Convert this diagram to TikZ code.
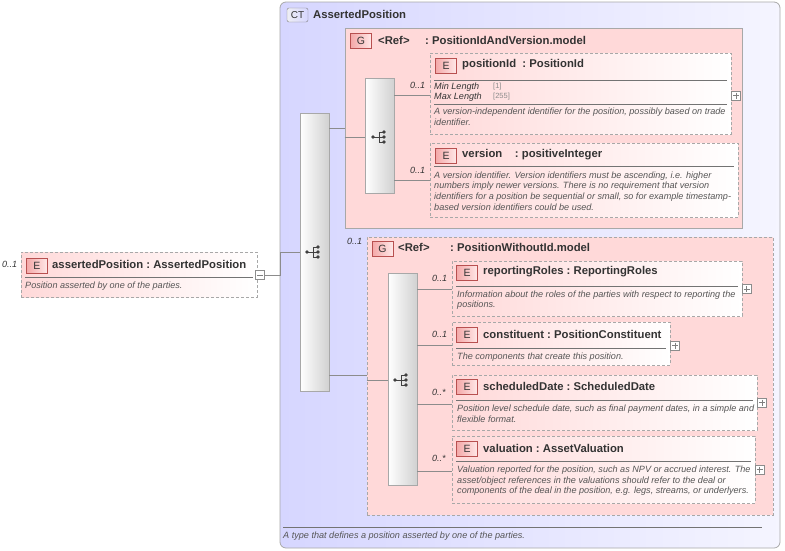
\documentclass[tikz,border=0pt]{standalone}
\usepackage{fontspec}
\setmainfont{Liberation Sans}
\begin{document}
\definecolor{pk}{HTML}{FFD9D9}
\definecolor{lav}{HTML}{D6D6FF}
\definecolor{badge}{HTML}{F4A8A8}
\definecolor{badgeb}{HTML}{B85050}
\definecolor{txt}{HTML}{333333}
\definecolor{dsc}{HTML}{555555}
\definecolor{bord}{HTML}{A8A8A8}
\begin{tikzpicture}[x=1pt,y=-1pt,
  elem/.style={draw=bord,dashed,dash pattern=on 3pt off 2pt,left color=pk,right color=white,line width=0.8pt},
  grp/.style={draw=bord,fill=pk,line width=0.8pt},
  seq/.style={draw=bord,left color=white,right color=black!18,line width=0.6pt},
  bdg/.style={draw=badgeb,left color=badge,right color=pk!60,line width=0.5pt,font=\fontsize{10.5}{12}\selectfont,text=txt,inner sep=0pt},
  ttl/.style={anchor=west,font=\bfseries\fontsize{11.3}{13}\selectfont,text=txt,inner sep=0pt},
  dsc/.style={anchor=west,font=\itshape\fontsize{9.1}{11}\selectfont,text=dsc,inner sep=0pt},
  card/.style={anchor=west,font=\itshape\fontsize{9}{11}\selectfont,text=txt,inner sep=0pt},
  sep/.style={draw=black!55,line width=0.5pt},
  conn/.style={draw=black!45,line width=0.6pt},
  pm/.style={draw=black!45,fill=white,line width=0.5pt,minimum size=9pt,inner sep=0pt}]
\newcommand\bx[6]{\node[#6,minimum width={#4pt-#2pt},minimum height={#5pt-#3pt},inner sep=0pt] (#1) at ({(#2+#4)/2},{(#3+#5)/2}) {};}
\newcommand\bdgat[4]{\node[bdg,minimum width=21pt,minimum height=15pt] (#1) at (#2,#3) {#4};}
\newcommand\seqicon[2]{%
  \begin{scope}[shift={(#1,#2)}]
   \draw[black!75,line width=0.9pt] (-6,0) -- (0,0) (0,-5) -- (0,5) (0,-5) -- (5,-5) (0,5) -- (5,5) (0,0)--(5,0);
   \fill[black!75] (-6,0) circle[radius=1.8pt] (5,-5) circle[radius=1.8pt] (5,0) circle[radius=1.8pt] (5,5) circle[radius=1.8pt];
  \end{scope}}
\useasboundingbox (0,0) rectangle (785,550);
% CT
\node[draw=bord,rounded corners=6pt,left color=lav,right color=lav!25,minimum width=500pt,minimum height=546pt,line width=0.8pt] (ct) at (530,275) {};
\node[draw=black!50,left color=lav!80!black!20,right color=lav,minimum width=21pt,minimum height=14pt,inner sep=0pt,font=\fontsize{10}{11}\selectfont,text=txt,rounded corners=2pt] (ctb) at (297.5,15) {CT};
\node[ttl] (ctt) at (313,14) {AssertedPosition};
\draw[sep] (283,527) -- (762,527);
\node[dsc] (ctd) at (283,536) {A type that defines a position asserted by one of the parties.};
% asserted element
\node[card] (c0) at (2,264) {0..1};
\bx{ap}{21}{252}{257}{297}{elem}
\bdgat{apb}{37}{265.5}{E}
\node[ttl] (apt) at (52,264) {assertedPosition\ :\ AssertedPosition};
\draw[sep] (25,277) -- (253,277);
\node[dsc] (apd) at (25,286) {Position asserted by one of the parties.};
\node[pm] (apm) at (260,275) {};
\draw[black!50] (257,275)--(263,275);
% main sequence
\bx{s1}{300}{113}{329}{391}{seq}
\seqicon{313}{252}
\draw[conn] (apm.east) -- (280,275) |- (s1.west |- 0,252);
% group 1
\bx{g1}{345}{28}{742}{228}{grp}
\draw[conn] (s1.east |- 0,128) -- (g1.west |- 0,128);
\bdgat{g1b}{361}{40.5}{G}
\node[ttl] (g1r) at (378,40) {<Ref>};
\node[ttl] (g1t) at (425,40) {:\ PositionIdAndVersion.model};
\bx{s2}{365}{78}{394}{193}{seq}
\seqicon{379}{137}
\draw[conn] (g1.west |- 0,137) -- (s2.west |- 0,137);
% positionId
\bx{pid}{430}{53}{731}{134}{elem}
\node[card] at (410,85) {0..1};
\draw[conn] (s2.east |- 0,95) -- (pid.west |- 0,95);
\bdgat{pidb}{446}{65.5}{E}
\node[ttl] at (462,65) {positionId\ \ :\ PositionId};
\draw[sep] (434,80) -- (727,80);
\node[dsc,text=txt] at (434,87) {Min Length};
\node[dsc,font=\fontsize{7.5}{8}\selectfont,text=black!45] at (493,87) {[1]};
\node[dsc,text=txt] at (434,97) {Max Length};
\node[dsc,font=\fontsize{7.5}{8}\selectfont,text=black!45] at (493,97) {[255]};
\draw[sep] (434,104) -- (727,104);
\node[dsc] at (434,112) {A version-independent identifier for the position, possibly based on trade};
\node[dsc] at (434,122) {identifier.};
\node[pm] at (736,95.5) {}; \draw[black!50] (733,95.5)--(739,95.5) (736,92.5)--(736,98.5);
% version
\bx{ver}{430}{143}{738}{217}{elem}
\node[card] at (410,170) {0..1};
\draw[conn] (s2.east |- 0,180) -- (ver.west |- 0,180);
\bdgat{verb}{446}{155.5}{E}
\node[ttl] at (462,155) {version\ \ \ \ :\ positiveInteger};
\draw[sep] (434,166) -- (734,166);
\node[dsc] at (434,176) {A version identifier. Version identifiers must be ascending, i.e. higher};
\node[dsc] at (434,186) {numbers imply newer versions. There is no requirement that version};
\node[dsc] at (434,197) {identifiers for a position be sequential or small, so for example timestamp-};
\node[dsc] at (434,207) {based version identifiers could be used.};
% group 2
\bx{g2}{367}{237}{773}{515}{grp,dashed,dash pattern=on 3pt off 2pt}
\node[card] at (347,241) {0..1};
\draw[conn] (s1.east |- 0,375) -- (g2.west |- 0,375);
\bdgat{g2b}{382.5}{248.5}{G}
\node[ttl] at (398,247) {<Ref>};
\node[ttl] at (450,247) {:\ PositionWithoutId.model};
\bx{s3}{388}{273}{417}{485}{seq}
\seqicon{401}{380}
\draw[conn] (g2.west |- 0,380) -- (s3.west |- 0,380);
% reportingRoles
\bx{rr}{452}{261}{742}{316}{elem}
\node[card] at (432,278) {0..1};
\draw[conn] (s3.east |- 0,289) -- (rr.west |- 0,289);
\bdgat{rrb}{467}{272.5}{E}
\node[ttl] at (483,272) {reportingRoles\ :\ ReportingRoles};
\draw[sep] (456,286) -- (738,286);
\node[dsc] at (457,295) {Information about the roles of the parties with respect to reporting the};
\node[dsc] at (457,305) {positions.};
\node[pm] at (746.5,289) {}; \draw[black!50] (743.5,289)--(749.5,289) (746.5,286)--(746.5,292);
% constituent
\bx{co}{452}{322}{670}{365}{elem}
\node[card] at (432,334) {0..1};
\draw[conn] (s3.east |- 0,345) -- (co.west |- 0,345);
\bdgat{cob}{467}{334.5}{E}
\node[ttl] at (483,334) {constituent\ :\ PositionConstituent};
\draw[sep] (456,348) -- (666,348);
\node[dsc] at (457,357) {The components that create this position.};
\node[pm] at (675,345.5) {}; \draw[black!50] (672,345.5)--(678,345.5) (675,342.5)--(675,348.5);
% scheduledDate
\bx{sd}{452}{375}{757}{430}{elem}
\node[card] at (432,392) {0..*};
\draw[conn] (s3.east |- 0,404) -- (sd.west |- 0,404);
\bdgat{sdb}{467}{386.5}{E}
\node[ttl] at (483,386) {scheduledDate\ :\ ScheduledDate};
\draw[sep] (456,400) -- (753,400);
\node[dsc] at (457,409) {Position level schedule date, such as final payment dates, in a simple and};
\node[dsc] at (457,419) {flexible format.};
\node[pm] at (762,402.5) {}; \draw[black!50] (759,402.5)--(765,402.5) (762,399.5)--(762,405.5);
% valuation
\bx{va}{452}{436}{755}{503}{elem}
\node[card] at (432,458) {0..*};
\draw[conn] (s3.east |- 0,471) -- (va.west |- 0,471);
\bdgat{vab}{467}{448.5}{E}
\node[ttl] at (483,448) {valuation\ :\ AssetValuation};
\draw[sep] (456,461) -- (751,461);
\node[dsc] at (457,470) {Valuation reported for the position, such as NPV or accrued interest. The};
\node[dsc] at (457,481) {asset/object references in the valuations should refer to the deal or};
\node[dsc] at (457,491) {components of the deal in the position, e.g. legs, streams, or underlyers.};
\node[pm] at (759.5,469.5) {}; \draw[black!50] (756.5,469.5)--(762.5,469.5) (759.5,466.5)--(759.5,472.5);
\end{tikzpicture}
\end{document}
